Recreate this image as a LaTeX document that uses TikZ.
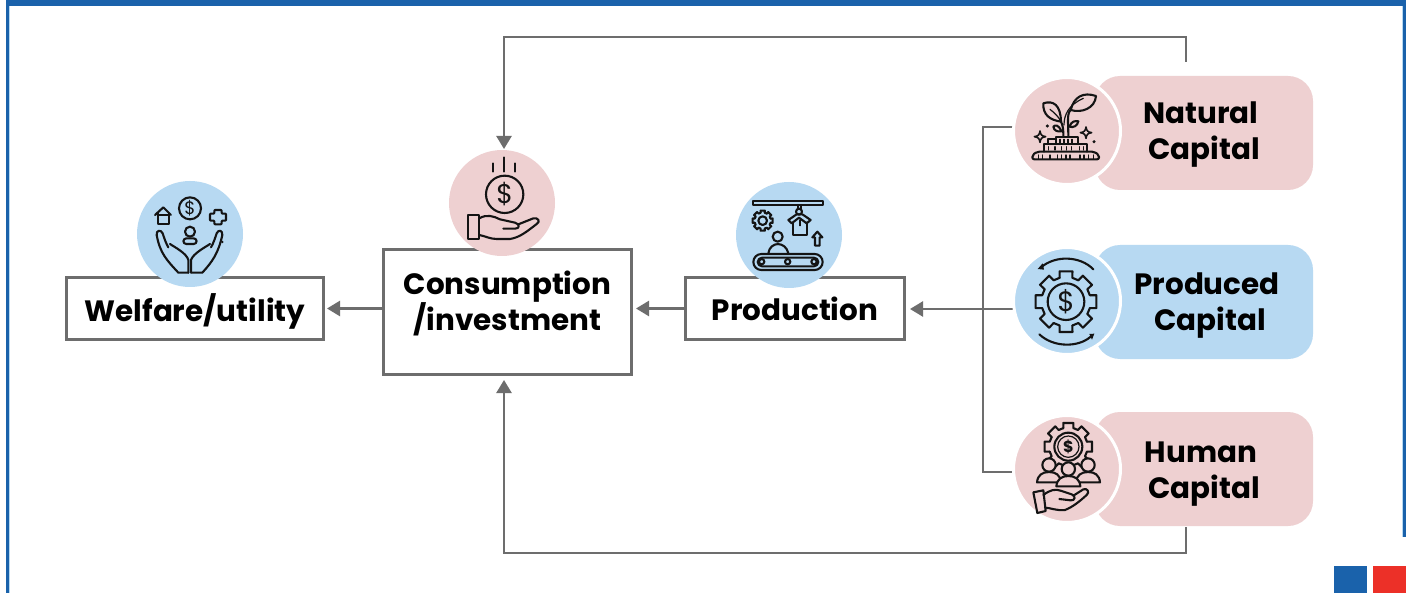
\documentclass[tikz,border=0pt]{standalone}
\usepackage{fontspec}
\setmainfont{Poppins}
\usetikzlibrary{arrows.meta,calc}
\definecolor{brandblue}{HTML}{1A62AB}
\definecolor{brandred}{HTML}{EC3028}
\definecolor{softpink}{HTML}{EED0D1}
\definecolor{softblue}{HTML}{B7D9F2}
\definecolor{linegray}{HTML}{6D6D6D}
\definecolor{inkdark}{HTML}{141414}
\newcommand{\shiftline}[2]{\raisebox{#1}[\height][\depth]{#2}}
\tikzset{
  x=0.5pt,y=-0.5pt,
  conn/.style={draw=linegray,line width=1.2pt,-{Triangle[length=6.5pt,width=7.5pt]}},
  plainconn/.style={draw=linegray,line width=1.2pt},
  boxnode/.style={draw=linegray,line width=1.5pt,fill=white,align=center,font=\bfseries\fontsize{14.7}{18}\selectfont,inner sep=0pt,text=black},
  pill/.style={fill=#1,rounded corners=12.5pt,minimum width=109pt,minimum height=57pt,align=center,font=\bfseries\fontsize{14.7}{18}\selectfont,inner sep=0pt,text=black},
  iconcircle/.style={circle,fill=#1,minimum size=53.5pt,inner sep=0pt,draw=white,line width=1.5pt},
  plaincircle/.style={circle,fill=#1,minimum size=53pt,inner sep=0pt},
  zoomed/.style={x=0.16667pt,y=-0.16667pt},
  icon/.style={draw=inkdark,line width=1.05pt,line cap=round,line join=round},
  thinicon/.style={draw=inkdark,line width=0.6pt,line cap=round,line join=round},
  dollar/.style={text=inkdark,inner sep=0pt},
  sparkstar/.pic={\draw[thinicon,line width=0.8pt] (0,-17) .. controls (2,-5) and (5,-2) .. (17,0) .. controls (5,2) and (2,5) .. (0,17) .. controls (-2,5) and (-5,2) .. (-17,0) .. controls (-5,-2) and (-2,-5) .. (0,-17) -- cycle;},
  gearpic/.pic={\foreach \a in {0,45,...,315}{\draw[icon] (\a-15:74) -- (\a-12:93) -- (\a+12:93) -- (\a+15:74) -- (\a+30:74);}},
  personpic/.pic={\draw[icon,fill=softpink] (0,-25) circle[radius=20];
    \draw[icon,fill=softpink] (-36,27) .. controls (-34,5) and (-20,-4) .. (0,-4) .. controls (20,-4) and (34,5) .. (36,27) -- cycle;}
}
\begin{document}
\begin{tikzpicture}
\useasboundingbox (0,0) rectangle (1408,593);
% frame
\fill[white] (0,0) rectangle (1408,593);
\fill[softblue] (6,0) rectangle (10,593);
\fill[brandblue] (6,0) rectangle (9,593);
\fill[softblue] (1402,0) rectangle (1406,537);
\fill[brandblue] (1403,0) rectangle (1406,537);
\fill[brandblue] (6,0) rectangle (1406,6.5);
\fill[brandblue] (1334,566) rectangle (1367,593);
\fill[brandred] (1373,566) rectangle (1406,593);

% boxes
\node[boxnode,minimum width=128.5pt,minimum height=31pt] (welfare) at (195,308.5) {\shiftline{-1.5pt}{Welfare/utility}};
\node[boxnode,minimum width=124pt,minimum height=62.5pt] (consumption) at (507.5,312) {\shiftline{4.5pt}{Consumption}\\\shiftline{4.5pt}{/investment}};
\node[boxnode,minimum width=109.5pt,minimum height=31pt] (production) at (795,308.5) {Production};

% pills
\node[pill=softpink] (natural) at (1204,133) {\shiftline{-1pt}{Natural}\kern3pt\\\shiftline{-1pt}{Capital}};
\node[pill=softblue] (produced) at (1204,302) {\kern3pt\shiftline{-1.75pt}{Produced}\\\kern6pt\shiftline{-1.75pt}{Capital}};
\node[pill=softpink] (human) at (1204,469) {\shiftline{-2.75pt}{Human}\kern3pt\\\shiftline{-2.75pt}{Capital}};

% connector anchors
\coordinate (natTap) at (1186,62);
\coordinate (conTop) at (504,149);
\coordinate (humTap) at (1186,527);
\coordinate (conBottom) at (504,380);
\coordinate (natLeft) at (1030,127);
\coordinate (humLeft) at (1030,472);
\coordinate (prodLeft) at (1030,309);
\coordinate (spineTop) at (983,127);
\coordinate (spineBottom) at (983,472);
\coordinate (prodIn) at (910,309);

% connectors
\draw[conn] (natTap) -- (1186,37) -| (conTop);
\draw[conn] (humTap) -- (1186,553) -| (conBottom);
\draw[plainconn] (natLeft) -- (spineTop) -- (spineBottom) -- (humLeft);
\draw[conn] (prodLeft) -- (prodIn);
\draw[conn,shorten >=1.5pt] (production.west) -- (production.west -| consumption.east);
\draw[conn,shorten >=1pt] (production.west -| consumption.west) -- (welfare.east);

% circles
\node[plaincircle=softblue] (welfareIcon) at (190,234) {};
\node[plaincircle=softpink] (consumptionIcon) at (502,203) {};
\node[plaincircle=softblue] (productionIcon) at (789,235) {};
\node[iconcircle=softpink] (naturalIcon) at (1067,131) {};
\node[iconcircle=softblue] (producedIcon) at (1067,301) {};
\node[iconcircle=softpink] (humanIcon) at (1067,469) {};

% natural icon
\begin{scope}[shift={(1000,60)},zoomed]
  \draw[icon,rounded corners=1pt] (97,298) -- (97,285) -- (112,275) -- (282,275) -- (297,285) -- (297,298) -- cycle;
  \draw[icon] (132,275) -- (132,252) -- (262,252) -- (262,275);
  \draw[icon] (145,252) -- (145,238) -- (168,238);
  \draw[icon] (168,252) -- (168,230) -- (235,230) -- (235,252);
  \foreach \t in {115,128,150,172,185,198,210,240,252,265,280}{\draw[thinicon] (\t,285) -- (\t,296);}
  \foreach \t in {145,165,185,200,215,238,250}{\draw[thinicon] (\t,260) -- (\t,270);}
  \foreach \t in {180,192,204,216}{\draw[thinicon] (\t,238) -- (\t,248);}
  \draw[icon] (130,130) .. controls (160,120) and (182,135) .. (183,185) .. controls (150,180) and (128,165) .. (130,130) -- cycle;
  \draw[thinicon] (150,148) .. controls (165,160) and (175,170) .. (182,183);
  \draw[icon] (288,108) .. controls (250,95) and (222,110) .. (212,150) .. controls (245,160) and (285,145) .. (288,108) -- cycle;
  \draw[icon] (190,228) .. controls (190,205) and (188,195) .. (183,185);
  \draw[icon] (205,228) .. controls (205,190) and (200,160) .. (212,150);
  \draw[thinicon] (192,195) .. controls (192,165) and (205,135) .. (250,115);
  \draw[icon] (184,214) .. controls (175,192) and (165,195) .. (160,200) .. controls (162,212) and (172,216) .. (184,214) -- cycle;
  \draw[icon] (208,200) .. controls (215,183) and (225,182) .. (235,184) .. controls (232,198) and (220,204) .. (208,200) -- cycle;
  \pic at (120,230) {sparkstar};
  \pic at (258,218) {sparkstar};
  \fill[inkdark] (142,198) circle[radius=5];
  \fill[inkdark] (282,245) circle[radius=5];
\end{scope}

% produced icon
\begin{scope}[shift={(1000,235)},zoomed]
  \pic at (198,200) {gearpic};
  \draw[icon] (198,200) circle[radius=55];
  \node[dollar,font=\fontsize{14}{14}\selectfont] (producedDollar) at (198,200) {\$};
  \draw[icon] (280,103) .. controls (240,62) and (165,60) .. (122,98);
  \fill[inkdark] (113,102) -- (128,85) -- (132,104) -- cycle;
  \draw[icon] (118,298) .. controls (160,338) and (235,338) .. (272,305);
  \fill[inkdark] (283,296) -- (268,297) -- (276,314) -- cycle;
\end{scope}

% human icon
\begin{scope}[shift={(1000,405)},zoomed]
  \pic[scale=0.78] at (205,125) {gearpic};
  \draw[icon] (205,125) circle[radius=42];
  \draw[thinicon] (205,125) circle[radius=32];
  \node[dollar,font=\bfseries\fontsize{8}{8}\selectfont] (humanDollar) at (205,125) {\$};
  \pic at (147,205) {personpic};
  \pic at (264,205) {personpic};
  \pic at (205,217) {personpic};
  \draw[icon] (100,262) -- (130,256) -- (137,318) -- (112,324) -- cycle;
  \draw[icon] (130,270) .. controls (150,255) and (165,250) .. (185,258) -- (215,268) .. controls (228,272) and (226,288) .. (212,286) -- (178,282);
  \draw[icon] (220,272) -- (250,253) .. controls (262,248) and (270,262) .. (260,270) .. controls (240,288) and (220,305) .. (195,315) .. controls (170,318) and (150,308) .. (135,308);
\end{scope}

% welfare icon
\begin{scope}[shift={(125,170)},zoomed]
  \draw[icon] (90,135) -- (115,112) -- (138,135);
  \draw[icon] (98,130) -- (98,162) -- (132,162) -- (132,130);
  \draw[icon] (102,135) -- (128,135);
  \draw[icon] (195,115) circle[radius=33];
  \node[dollar,font=\fontsize{9}{9}\selectfont] (welfareDollar) at (195,115) {\$};
  \draw[icon,rounded corners=0.4pt] (268,120) -- (290,120) -- (290,131) -- (303,131) -- (303,152) -- (290,152) -- (290,163) -- (268,163) -- (268,152) -- (255,152) -- (255,131) -- (268,131) -- cycle;
  \draw[icon] (195,185) circle[radius=15];
  \draw[icon,rounded corners=1.5pt] (175,222) -- (175,205) -- (215,205) -- (215,222) -- cycle;
  \draw[icon] (190,308) -- (160,308) .. controls (125,270) and (105,250) .. (95,195) .. controls (93,180) and (108,178) .. (113,190) .. controls (118,205) and (122,218) .. (130,232);
  \draw[icon] (135,222) .. controls (150,232) and (185,250) .. (190,270) -- (190,308);
  \draw[icon] (198,308) -- (232,308) .. controls (262,275) and (280,250) .. (292,195) .. controls (293,180) and (280,178) .. (275,190) .. controls (270,205) and (266,218) .. (258,232);
  \draw[icon] (255,222) .. controls (240,232) and (205,250) .. (198,270) -- (198,308);
  \fill[inkdark] (292,216) circle[radius=4];
\end{scope}

% consumption icon
\begin{scope}[shift={(440,130)},zoomed]
  \draw[icon] (192,82) -- (192,125);
  \draw[icon] (160,100) -- (160,125);
  \draw[icon] (224,100) -- (224,125);
  \draw[icon] (194,193) circle[radius=56];
  \node[dollar,font=\fontsize{13.5}{13.5}\selectfont] (consumptionDollar) at (194,193) {\$};
  \draw[icon] (83,255) -- (118,255) -- (118,327) -- (83,327) -- cycle;
  \draw[icon] (118,265) .. controls (140,252) and (160,258) .. (180,268) -- (225,278) .. controls (240,282) and (240,296) .. (225,296) -- (190,296);
  \draw[icon] (235,283) -- (280,265) .. controls (295,262) and (302,275) .. (290,282) .. controls (260,305) and (240,322) .. (210,327) -- (170,327) .. controls (150,327) and (135,318) .. (118,315);
\end{scope}

% production icon
\begin{scope}[shift={(725,175)},zoomed]
  \draw[icon] (85,77) rectangle (293,90);
  \draw[icon] (218,90) -- (218,102);
  \draw[icon] (227,90) -- (227,102);
  \draw[icon] (222,110) circle[radius=9];
  \draw[icon] (190,135) -- (215,118) -- (232,118) -- (257,135) -- (245,145) -- (222,128) -- (200,145) -- cycle;
  \draw[icon] (205,142) -- (205,180) -- (245,180) -- (245,142);
  \draw[thinicon] (225,135) -- (225,152);
  \pic[scale=0.33] at (113,137) {gearpic};
  \draw[icon] (113,137) circle[radius=13];
  \draw[icon] (277,170) -- (292,187) -- (284,187) -- (284,212) -- (270,212) -- (270,187) -- (262,187) -- cycle;
  \draw[icon] (158,185) circle[radius=15];
  \draw[icon] (130,235) .. controls (135,198) and (182,198) .. (190,235);
  \draw[icon,rounded corners=4pt] (85,237) rectangle (293,285);
  \draw[icon,rounded corners=2.2pt] (98,248) rectangle (280,274);
  \foreach \t in {110,188,267}{\draw[icon,fill=softblue] (\t,260) circle[radius=8];}
\end{scope}
\end{tikzpicture}
\end{document}
